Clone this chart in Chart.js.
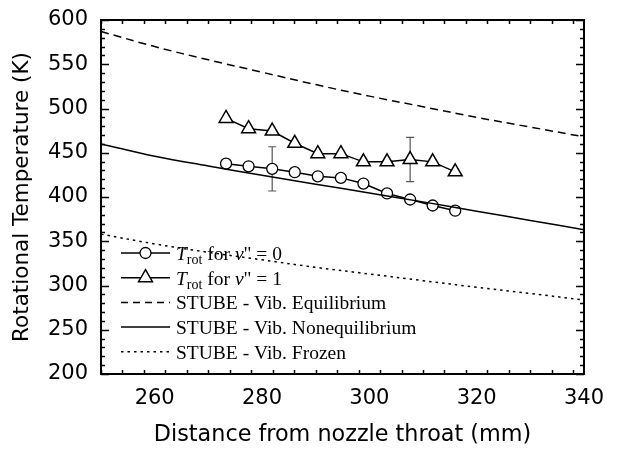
<!DOCTYPE html>
<html><head><meta charset="utf-8">
<script src="https://cdn.jsdelivr.net/npm/chart.js@4.4.1/dist/chart.umd.min.js"></script>
<style>html,body{margin:0;padding:0;background:#fff;}#wrap{width:622px;height:455px;position:relative;}</style>
</head><body><div id="wrap"><canvas id="c" width="622" height="455"></canvas></div>
<script>
// ---- data ----
const distance = [273.3, 277.5, 281.9, 286.1, 290.4, 294.7, 298.9, 303.3, 307.6, 311.8, 316.0];
const trotV0 = [437.7, 434.7, 431.8, 428.0, 423.4, 421.6, 415.2, 404.0, 397.2, 390.4, 384.5];
const trotV1 = [488.8, 477.2, 474.5, 460.7, 449.0, 449.0, 439.7, 439.7, 442.3, 439.7, 428.4];
const errV0 = [0, 0, 25, 0, 0, 0, 0, 0, 0, 0, 0];
const errV1 = [0, 0, 0, 0, 0, 0, 0, 0, 25, 0, 0];
const stubeX = [250, 260, 270, 280, 290, 300, 310, 320, 330, 340];
const stubeEquilibrium = [587, 570, 555, 541, 527, 514, 502, 490, 479, 468];
const stubeNonequilibrium = [460, 446, 435, 424.5, 414.5, 404.5, 394.5, 384, 373.5, 363];
const stubeFrozen = [358, 347, 337.5, 329, 320.5, 313, 305.5, 298, 291, 283.5];
const xTicks = [260, 280, 300, 320, 340];
const yTicks = [200, 250, 300, 350, 400, 450, 500, 550, 600];
const xRange = [250, 340], yRange = [200, 600];
const xMinorStep = 4, yMinorStep = 10;
const xTitle = 'Distance from nozzle throat (mm)';
const yTitle = 'Rotational Temperature (K)';
const legendRuns = [
  [{t:'T', st:'italic'}, {t:'rot', sub:true}, {t:' for '}, {t:'v', st:'italic'}, {t:'" = 0'}],
  [{t:'T', st:'italic'}, {t:'rot', sub:true}, {t:' for '}, {t:'v', st:'italic'}, {t:'" = 1'}],
  [{t:'STUBE - Vib. Equilibrium'}],
  [{t:'STUBE - Vib. Nonequilibrium'}],
  [{t:'STUBE - Vib. Frozen'}]
];

const pts = (xs, ys) => xs.map((x, i) => ({x: x, y: ys[i]}));

const framePlugin = {
  id: 'frame',
  beforeDatasetsDraw(chart) {
    const ctx = chart.ctx, xs = chart.scales.x, ys = chart.scales.y;
    ctx.save();
    ctx.strokeStyle = '#555'; ctx.lineWidth = 1.2;
    chart.data.datasets.forEach(ds => {
      if (!ds.errors) return;
      ds.data.forEach((p, i) => {
        const e = ds.errors[i]; if (!e) return;
        const px = xs.getPixelForValue(p.x);
        const y1 = ys.getPixelForValue(p.y + e), y2 = ys.getPixelForValue(p.y - e);
        ctx.beginPath();
        ctx.moveTo(px, y1); ctx.lineTo(px, y2);
        ctx.moveTo(px - 4, y1); ctx.lineTo(px + 4, y1);
        ctx.moveTo(px - 4, y2); ctx.lineTo(px + 4, y2);
        ctx.stroke();
      });
    });
    ctx.restore();
  },
  afterDraw(chart) {
    const ctx = chart.ctx, xs = chart.scales.x, ys = chart.scales.y, a = chart.chartArea;
    ctx.save();
    ctx.strokeStyle = '#000';
    ctx.lineWidth = 1.5;
    ctx.beginPath();
    for (let v = xRange[0]; v <= xRange[1] + 1e-9; v += xMinorStep) {
      const major = xTicks.includes(v) ? 8 : 4;
      const px = Math.round(xs.getPixelForValue(v)) + 0.5;
      ctx.moveTo(px, a.bottom); ctx.lineTo(px, a.bottom - major);
      ctx.moveTo(px, a.top); ctx.lineTo(px, a.top + major);
    }
    for (let v = yRange[0]; v <= yRange[1] + 1e-9; v += yMinorStep) {
      const major = yTicks.includes(v) ? 8 : 4;
      const py = Math.round(ys.getPixelForValue(v)) + 0.5;
      ctx.moveTo(a.left, py); ctx.lineTo(a.left + major, py);
      ctx.moveTo(a.right, py); ctx.lineTo(a.right - major, py);
    }
    ctx.stroke();
    ctx.lineWidth = 2;
    ctx.strokeRect(a.left, a.top, a.right - a.left, a.bottom - a.top);

    // legend
    const x1 = a.left + 20, x2 = a.left + 69, tx = a.left + 75;
    const y0 = a.top + 233, dy = 24.7;
    chart.data.datasets.forEach((ds, i) => {
      const order = ds.legendIndex;
      const y = y0 + order * dy;
      ctx.save();
      ctx.strokeStyle = ds.borderColor; ctx.lineWidth = ds.borderWidth;
      ctx.setLineDash(ds.legendDash || []);
      ctx.beginPath(); ctx.moveTo(x1, y); ctx.lineTo(x2, y); ctx.stroke();
      ctx.setLineDash([]);
      if (ds.pointRadius > 0) {
        ctx.fillStyle = '#fff'; ctx.lineWidth = ds.pointBorderWidth;
        Chart.helpers.drawPoint(ctx, {pointStyle: ds.pointStyle, radius: ds.pointRadius, borderWidth: ds.pointBorderWidth, rotation: 0}, (x1 + x2) / 2, y);
      }
      ctx.restore();
      let cx = tx;
      ctx.fillStyle = '#000'; ctx.textBaseline = 'alphabetic';
      legendRuns[order].forEach(r => {
        const size = r.sub ? 14 : 19.5;
        ctx.font = (r.st || 'normal') + ' ' + size + 'px "Liberation Serif"';
        ctx.fillText(r.t, cx, y + 7 + (r.sub ? 4 : 0));
        cx += ctx.measureText(r.t).width;
      });
    });
    ctx.restore();
  }
};

new Chart(document.getElementById('c'), {
  type: 'scatter',
  data: {
    datasets: [
      {label: 'STUBE - Vib. Equilibrium', legendIndex: 2, data: pts(stubeX, stubeEquilibrium), showLine: true, tension: 0.4,
       borderColor: '#000', borderWidth: 1.5, borderDash: [8, 5], legendDash: [7, 5], pointRadius: 0},
      {label: 'STUBE - Vib. Nonequilibrium', legendIndex: 3, data: pts(stubeX, stubeNonequilibrium), showLine: true, tension: 0.4,
       borderColor: '#000', borderWidth: 1.5, pointRadius: 0},
      {label: 'STUBE - Vib. Frozen', legendIndex: 4, data: pts(stubeX, stubeFrozen), showLine: true, tension: 0.4,
       borderColor: '#000', borderWidth: 1.5, borderDash: [2.5, 4], legendDash: [2.5, 4], pointRadius: 0},
      {label: 'Trot v0', legendIndex: 0, data: pts(distance, trotV0), errors: errV0, showLine: true,
       borderColor: '#000', borderWidth: 1.5, pointStyle: 'circle', pointRadius: 5.5, pointBorderWidth: 1.3,
       pointBackgroundColor: '#fff', pointBorderColor: '#000'},
      {label: 'Trot v1', legendIndex: 1, data: pts(distance, trotV1), errors: errV1, showLine: true,
       borderColor: '#000', borderWidth: 1.5, pointStyle: 'triangle', pointRadius: 8, pointBorderWidth: 1.5,
       pointBackgroundColor: '#fff', pointBorderColor: '#000'}
    ]
  },
  options: {
    responsive: false, animation: false,
    layout: {padding: {top: 20, right: 38, left: 0, bottom: 0}},
    plugins: {legend: {display: false}, tooltip: {enabled: false}},
    scales: {
      x: {type: 'linear', min: xRange[0], max: xRange[1],
        afterBuildTicks: s => { s.ticks = xTicks.map(v => ({value: v})); },
        afterFit: s => { s.height = 81; s.paddingLeft = 0; s.paddingRight = 0; s.paddingTop = 0; s.paddingBottom = 0; },
        grid: {display: false, drawTicks: false}, border: {display: false},
        ticks: {font: {family: 'DejaVu Sans', size: 21}, color: '#000', padding: 12, maxRotation: 0, autoSkip: false},
        title: {display: true, text: xTitle, color: '#000', font: {family: 'DejaVu Sans', size: 22.3}, padding: {top: 0, bottom: 6}}},
      y: {type: 'linear', min: yRange[0], max: yRange[1],
        afterBuildTicks: s => { s.ticks = yTicks.map(v => ({value: v})); },
        afterFit: s => { s.width = 101; s.paddingLeft = 0; s.paddingRight = 0; s.paddingTop = 0; s.paddingBottom = 0; },
        grid: {display: false, drawTicks: false}, border: {display: false},
        ticks: {font: {family: 'DejaVu Sans', size: 21}, color: '#000', padding: 13, autoSkip: false},
        title: {display: true, text: yTitle, color: '#000', font: {family: 'DejaVu Sans', size: 21.5}, padding: {top: 10, bottom: 0}}}
    }
  },
  plugins: [framePlugin]
});
</script></body></html>
